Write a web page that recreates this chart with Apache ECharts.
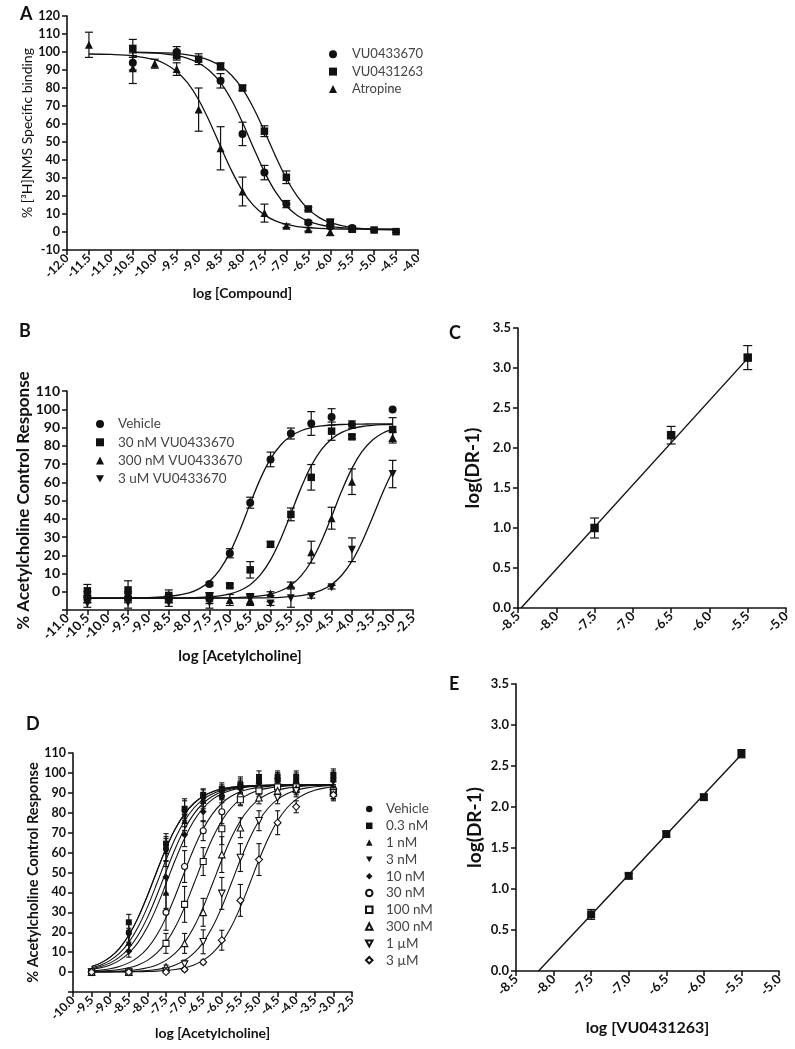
<!DOCTYPE html>
<html><head><meta charset="utf-8">
<script src="https://cdn.jsdelivr.net/npm/echarts@6/dist/echarts.min.js"></script>
<style>html,body{margin:0;padding:0;background:#fff}#c{width:795px;height:1049px}</style>
</head><body><div id="c"></div>
<script>
// ---------- Panel A : [3H]NMS binding ----------
const aX = [-11.5, -10.5, -10.0, -9.5, -9.0, -8.5, -8.0, -7.5, -7.0, -6.5, -6.0, -5.5, -5.0, -4.5];
const aVU0433670     = [null, 94, null, 100, null, 84, 54.5, 33, 15.5, 5.3, 3, 2.2, null, null];
const aVU0433670Err  = [null, 4, null, 3, null, 4, 6.5, 4, 2, 1, 1, 1, null, null];
const aVU0431263     = [null, 102, null, 98, 96, 92, 80, 56, 30.4, 12.8, 5.5, 1.5, 1.1, 0.2];
const aVU0431263Err  = [null, 5, null, 2.5, 3, 2, 1.5, 3, 3.5, 1, 1.5, 1, 0.5, 0.5];
const aAtropine      = [104, 91, 93.5, 90.5, 68, 46.5, 22.5, 10.5, 3.5, 1.5, 0, null, null, null];
const aAtropineErr   = [7, 8.5, 2.5, 3.5, 12, 12, 8, 5, 1, 1, 2, null, null, null];
// fitted curves
const aCurveX = [-11.5, -11.0, -10.5, -10.0, -9.75, -9.5, -9.25, -9.0, -8.75, -8.5, -8.25, -8.0, -7.75, -7.5, -7.25, -7.0, -6.75, -6.5, -6.25, -6.0, -5.5, -5.0, -4.5];
const aCurve670 = [null, null, 99.8, 99.35, 98.86, 98.0, 96.47, 93.9, 89.6, 83.0, 73.3, 60.8, 46.8, 33.4, 22.4, 14.45, 9.2, 6.0, 4.08, 3.0, 1.97, 1.65, 1.55];
const aCurve263 = [null, null, 99.9, 99.7, 99.48, 99.1, 98.44, 97.3, 95.4, 92.2, 87.1, 79.5, 68.9, 56.0, 42.3, 29.75, 19.8, 12.7, 8.0, 5.2, 2.4, 1.46, 1.15];
const aCurveAtr = [98.9, 98.66, 97.9, 95.7, 93.2, 89.2, 82.8, 73.5, 61.3, 47.4, 34.1, 22.9, 14.8, 9.5, 6.15, 4.2, 3.02, 2.36, 1.99, 1.77, 1.59, 1.53, 1.5];

// ---------- Panel B : ACh CRC with VU0433670 ----------
const bX = [-10.5, -9.5, -8.5, -7.5, -7.0, -6.5, -6.0, -5.5, -5.0, -4.5, -4.0, -3.0];
const bVehicle    = [-3, -3, -4, 4.2, 21.1, 48.8, 72.5, 86.7, 92.2, 95.8, 91.6, 99.8];
const bVehicleErr = [3, 3, 2, 1, 2.5, 3, 4, 3, 6.5, 4.5, 2, 0];
const b30nM       = [0.5, 1, -2, -2.5, 3.3, 12, 26, 42.4, 62.7, 88, 84.9, 88.9];
const b30nMErr    = [3.5, 5, 3, 2, 1, 4.5, 1.5, 3.5, 7, 5, 1, 6.5];
const b300nM      = [-4, -3, -4, -3.5, -4.5, -4.5, -1, 3.8, 21.7, 40.3, 60.3, 84.5];
const b300nMErr   = [2, 2, 2, 3, 3, 3, 1, 1.5, 6, 6, 7, 3];
const b3uM        = [-6.5, -6, -6, -6, null, -4, -6.5, -3.5, -2.5, 2.5, 23, 64.5];
const b3uMErr     = [2, 3, 2, 3, null, 3, 1, 5, 1, 1, 6.5, 7.5];
const bCurveX = [-10.5, -10, -9.5, -9, -8.5, -8, -7.75, -7.5, -7.25, -7.0, -6.75, -6.5, -6.25, -6.0, -5.75, -5.5, -5.25, -5.0, -4.75, -4.5, -4.25, -4.0, -3.75, -3.5, -3.25, -3.0];
const bCurveVehicle = [-3.49, -3.48, -3.42, -3.23, -2.61, -0.58, 1.71, 5.62, 11.96, 21.45, 34.02, 48.29, 61.85, 72.78, 80.44, 85.32, 88.23, 89.9, 90.84, 91.36, 91.65, 91.81, 91.9, 91.95, 91.97, 91.98];
const bCurve30nM    = [-3.5, -3.5, -3.49, -3.48, -3.44, -3.29, -3.11, -2.79, -2.21, -1.17, 0.69, 3.89, 9.21, 17.46, 28.94, 42.81, 56.92, 69.01, 77.9, 83.74, 87.3, 89.37, 90.55, 91.2, 91.56, 91.76];
const bCurve300nM   = [-3.5, -3.5, -3.5, -3.5, -3.49, -3.48, -3.46, -3.44, -3.38, -3.29, -3.12, -2.81, -2.24, -1.24, 0.54, 3.6, 8.68, 16.57, 27.66, 41.23, 55.31, 67.61, 76.86, 83.04, 86.86, 89.1];
const bCurve3uM     = [-3.5, -3.5, -3.5, -3.5, -3.5, -3.5, -3.5, -3.49, -3.49, -3.47, -3.45, -3.42, -3.36, -3.24, -3.05, -2.69, -2.08, -1.0, 0.86, 3.99, 9.05, 16.75, 27.42, 40.41, 54.01, 66.13];

// ---------- Panel C : Schild VU0433670 ----------
const cX = [-7.5, -6.5, -5.5];
const cY = [1.0, 2.16, 3.13];
const cErr = [0.125, 0.11, 0.15];
const cLine = [[-8.46, 0.0], [-5.5, 3.12]];

// ---------- Panel D : ACh CRC with VU0431263 ----------
const dX = [-9.5, -8.5, -7.5, -7.0, -6.5, -6.0, -5.5, -5.0, -4.5, -4.0, -3.0];
const dNames = ['Vehicle', '0.3 nM', '1 nM', '3 nM', '10 nM', '30 nM', '100 nM', '300 nM', '1 µM', '3 µM'];
const dVehicle = [0.3, 20, 62, 81, 88.5, 91, 93, 96, 97, 96, 97];
const d03nM    = [0.5, 25, 64.5, 82, 89, 92, 94, 98, 98, 98, 99];
const d1nM     = [0.3, 15, 40, 76, 86, 90, 93, 96, 97, 96, 97];
const d3nM     = [0.3, 18, 60, 78, 86, 90, 92.5, 95, 96, 95, 96];
const d10nM    = [0.3, 10.5, 47.6, 69, 80.5, 88, 92, 95, 96, 95, 96];
const d30nM    = [0, 0.5, 30, 53, 71, 80.5, 88, 92, 93, 93, 90];
const d100nM   = [0, 0, 14.4, 34, 55.5, 72, 86.5, 91, 93, 93, 91];
const d300nM   = [0, 0, 2.5, 14.4, 30, 59, 72.5, 87.5, 91, 92, 90];
const d1uM     = [0, 0, 0.5, 4, 15.2, 39.5, 57.5, 76, 87.5, 91, 90];
const d3uM     = [0, 0, 0, 1.3, 5, 16, 36, 56.5, 75, 83, 89];
const dVehicleErr = [1, 5, 6, 5, 3, 3, 4, 3, 3, 4, 4];
const d03nMErr    = [1, 4, 5, 5, 3, 3, 4, 3, 3, 3, 3];
const d1nMErr     = [1, 4, 8, 5, 3, 3, 3, 3, 3, 3, 3];
const d3nMErr     = [1, 4, 7, 5, 4, 3, 3, 3, 3, 3, 3];
const d10nMErr    = [1, 3, 8, 6, 5, 3, 3, 3, 3, 3, 3];
const d30nMErr    = [0.5, 1, 9, 8, 5, 6, 4, 3, 3, 3, 3];
const d100nMErr   = [0.5, 1, 5, 9, 7, 8, 3, 3, 3, 3, 3];
const d300nMErr   = [0.5, 0.5, 1, 5, 7, 9, 5, 3, 3, 3, 3];
const d1uMErr     = [0.5, 0.5, 1, 2, 6, 8, 7, 5, 3, 3, 3];
const d3uMErr     = [0.5, 0.5, 0.5, 1, 1, 5, 8, 8, 6, 3, 3];
const dCurveX = [-9.5, -9.25, -9.0, -8.75, -8.5, -8.25, -8.0, -7.75, -7.5, -7.25, -7.0, -6.75, -6.5, -6.25, -6.0, -5.75, -5.5, -5.25, -5.0, -4.75, -4.5, -4.25, -4.0, -3.75, -3.5, -3.25, -3.0];
const dCurveVehicle = [2.81, 4.62, 7.50, 11.94, 18.46, 27.34, 38.34, 50.40, 62.04, 71.93, 79.47, 84.77, 88.27, 90.50, 91.89, 92.73, 93.24, 93.54, 93.73, 93.84, 93.90, 93.94, 93.96, 93.98, 93.99, 93.99, 94.0];
const dCurve03nM    = [2.81, 4.62, 7.50, 11.94, 18.46, 27.34, 38.34, 50.40, 62.04, 71.93, 79.47, 84.77, 88.27, 90.50, 91.89, 92.73, 93.24, 93.54, 93.73, 93.84, 93.90, 93.94, 93.96, 93.98, 93.99, 93.99, 94.0];
const dCurve1nM     = [2.18, 3.60, 5.89, 9.49, 14.91, 22.60, 32.62, 44.32, 56.37, 67.25, 76.00, 82.38, 86.71, 89.52, 91.28, 92.36, 93.02, 93.41, 93.65, 93.79, 93.87, 93.93, 93.96, 93.97, 93.98, 93.99, 93.99];
const dCurve3nM     = [1.69, 2.81, 4.62, 7.50, 11.94, 18.46, 27.34, 38.34, 50.40, 62.04, 71.93, 79.47, 84.77, 88.27, 90.50, 91.89, 92.73, 93.24, 93.54, 93.73, 93.84, 93.90, 93.94, 93.96, 93.98, 93.99, 93.99];
const dCurve10nM    = [1.31, 2.18, 3.60, 5.89, 9.49, 14.91, 22.60, 32.62, 44.32, 56.37, 67.25, 76.00, 82.38, 86.71, 89.52, 91.28, 92.36, 93.02, 93.41, 93.65, 93.79, 93.87, 93.93, 93.96, 93.97, 93.98, 93.99];
const dCurve30nM    = [0.61, 1.02, 1.69, 2.81, 4.62, 7.50, 11.94, 18.46, 27.34, 38.34, 50.40, 62.04, 71.93, 79.47, 84.77, 88.27, 90.50, 91.89, 92.73, 93.24, 93.54, 93.73, 93.84, 93.90, 93.94, 93.96, 93.98];
const dCurve100nM   = [0.28, 0.47, 0.79, 1.31, 2.18, 3.60, 5.89, 9.49, 14.91, 22.60, 32.62, 44.32, 56.37, 67.25, 76.00, 82.38, 86.71, 89.52, 91.28, 92.36, 93.02, 93.41, 93.65, 93.79, 93.87, 93.93, 93.96];
const dCurve300nM   = [0.10, 0.17, 0.28, 0.47, 0.79, 1.31, 2.18, 3.60, 5.89, 9.49, 14.91, 22.60, 32.62, 44.32, 56.37, 67.25, 76.00, 82.38, 86.71, 89.52, 91.28, 92.36, 93.02, 93.41, 93.65, 93.79, 93.87];
const dCurve1uM     = [0.035, 0.059, 0.10, 0.17, 0.28, 0.47, 0.79, 1.31, 2.18, 3.60, 5.89, 9.49, 14.91, 22.60, 32.62, 44.32, 56.37, 67.25, 76.00, 82.38, 86.71, 89.52, 91.28, 92.36, 93.02, 93.41, 93.65];
const dCurve3uM     = [0.013, 0.021, 0.035, 0.059, 0.10, 0.17, 0.28, 0.47, 0.79, 1.31, 2.18, 3.60, 5.89, 9.49, 14.91, 22.60, 32.62, 44.32, 56.37, 67.25, 76.00, 82.38, 86.71, 89.52, 91.28, 92.36, 93.02];

// ---------- Panel E : Schild VU0431263 ----------
const eX = [-7.5, -7.0, -6.5, -6.0, -5.5];
const eY = [0.69, 1.16, 1.67, 2.12, 2.65];
const eErr = [0.06, 0.03, 0.03, 0.03, 0.05];
const eLine = [[-8.2, 0.0], [-5.5, 2.64]];

// ---------- helpers ----------
const FONT = "Lato, 'Open Sans', 'DejaVu Sans', sans-serif";
const INK = '#111';
const pts = (xs, ys) => xs.map((x, i) => ys[i] == null ? null : [x, ys[i]]).filter(Boolean);
const errPts = (xs, ys, es) => xs.map((x, i) => (ys[i] == null || !es[i]) ? null : [x, ys[i] - es[i], ys[i] + es[i]]).filter(Boolean);

function errSeries(g, data, cap, lw) {
  return {
    type: 'custom', xAxisIndex: g, yAxisIndex: g, z: 3, clip: true, silent: true,
    data: data, encode: { x: 0, y: [1, 2] },
    renderItem: (params, api) => {
      const x = api.value(0), p1 = api.coord([x, api.value(1)]), p2 = api.coord([x, api.value(2)]);
      const st = { stroke: INK, lineWidth: lw || 1.2 };
      return { type: 'group', children: [
        { type: 'line', shape: { x1: p1[0], y1: p1[1], x2: p2[0], y2: p2[1] }, style: st },
        { type: 'line', shape: { x1: p1[0] - cap, y1: p1[1], x2: p1[0] + cap, y2: p1[1] }, style: st },
        { type: 'line', shape: { x1: p2[0] - cap, y1: p2[1], x2: p2[0] + cap, y2: p2[1] }, style: st }
      ]};
    }
  };
}
function scat(g, name, data, symbol, size, open) {
  return {
    type: 'scatter', name: name, xAxisIndex: g, yAxisIndex: g, z: 5, data: data,
    symbol: symbol, symbolSize: size,
    itemStyle: open ? { color: '#fff', borderColor: INK, borderWidth: 1.1, opacity: 1 } : { color: INK, opacity: 1 }
  };
}
function curve(g, data, w) {
  return {
    type: 'line', xAxisIndex: g, yAxisIndex: g, z: 4, data: data, showSymbol: false, symbol: 'none',
    smooth: 0.35, lineStyle: { color: INK, width: w || 1.3 }, silent: true
  };
}
const DOWN = 'path://M0,0L10,0L5,9Z';

function xAx(g, min, max, name, gap, fs, nfs) {
  return {
    gridIndex: g, type: 'value', min: min, max: max, interval: 0.5,
    name: name, nameLocation: 'middle', nameGap: gap,
    nameTextStyle: { fontFamily: FONT, fontWeight: 'bold', fontSize: nfs, color: INK },
    axisLine: { onZero: false, lineStyle: { color: INK, width: 1.6 } },
    axisTick: { show: true, length: 5, lineStyle: { color: INK, width: 1.5 } },
    splitLine: { show: false },
    axisLabel: { rotate: 45, margin: 6, fontFamily: FONT, fontWeight: 'bold', fontSize: fs, color: INK,
      formatter: v => v.toFixed(1), showMinLabel: true, showMaxLabel: true }
  };
}
function yAx(g, min, max, interval, name, gap, fs, nfs, fmt, nweight) {
  return {
    gridIndex: g, type: 'value', min: min, max: max, interval: interval,
    name: name, nameLocation: 'middle', nameGap: gap, nameRotate: 90,
    nameTextStyle: { fontFamily: FONT, fontWeight: nweight || 'bold', fontSize: nfs, color: INK },
    axisLine: { show: true, onZero: false, lineStyle: { color: INK, width: 1.6 } },
    axisTick: { show: true, length: 5, lineStyle: { color: INK, width: 1.5 } },
    splitLine: { show: false },
    axisLabel: { margin: 7, fontFamily: FONT, fontWeight: 'bold', fontSize: fs, color: INK, formatter: fmt,
      showMinLabel: true, showMaxLabel: true }
  };
}
const hideMinus10 = v => (v === -10 ? '' : String(v));

const series = [];
// A
series.push(errSeries(0, errPts(aX, aVU0433670, aVU0433670Err), 4));
series.push(errSeries(0, errPts(aX, aVU0431263, aVU0431263Err), 4));
series.push(errSeries(0, errPts(aX, aAtropine, aAtropineErr), 4));
series.push(curve(0, pts(aCurveX, aCurve670)));
series.push(curve(0, pts(aCurveX, aCurve263)));
series.push(curve(0, pts(aCurveX, aCurveAtr)));
series.push(scat(0, 'VU0433670', pts(aX, aVU0433670), 'circle', 8));
series.push(scat(0, 'VU0431263', pts(aX, aVU0431263), 'rect', 7.5));
series.push(scat(0, 'Atropine', pts(aX, aAtropine), 'triangle', 8));
// B
series.push(errSeries(1, errPts(bX, bVehicle, bVehicleErr), 4));
series.push(errSeries(1, errPts(bX, b30nM, b30nMErr), 4));
series.push(errSeries(1, errPts(bX, b300nM, b300nMErr), 4));
series.push(errSeries(1, errPts(bX, b3uM, b3uMErr), 4));
series.push(curve(1, pts(bCurveX, bCurveVehicle)));
series.push(curve(1, pts(bCurveX, bCurve30nM)));
series.push(curve(1, pts(bCurveX, bCurve300nM)));
series.push(curve(1, pts(bCurveX, bCurve3uM)));
series.push(scat(1, 'Vehicle', pts(bX, bVehicle), 'circle', 8));
series.push(scat(1, '30 nM VU0433670', pts(bX, b30nM), 'rect', 7.5));
series.push(scat(1, '300 nM VU0433670', pts(bX, b300nM), 'triangle', 8));
series.push(scat(1, '3 uM VU0433670', pts(bX, b3uM), DOWN, 8));
// C
series.push(errSeries(2, errPts(cX, cY, cErr), 4.5));
series.push({ type: 'line', xAxisIndex: 2, yAxisIndex: 2, z: 4, data: cLine, showSymbol: false, symbol: 'none', lineStyle: { color: INK, width: 1.4 }, silent: true });
series.push(scat(2, 'C', pts(cX, cY), 'rect', 8.5));
// D
const dY = [dVehicle, d03nM, d1nM, d3nM, d10nM, d30nM, d100nM, d300nM, d1uM, d3uM];
const dE = [dVehicleErr, d03nMErr, d1nMErr, d3nMErr, d10nMErr, d30nMErr, d100nMErr, d300nMErr, d1uMErr, d3uMErr];
const dC = [dCurveVehicle, dCurve03nM, dCurve1nM, dCurve3nM, dCurve10nM, dCurve30nM, dCurve100nM, dCurve300nM, dCurve1uM, dCurve3uM];
const dSym = ['circle', 'rect', 'triangle', DOWN, 'diamond', 'circle', 'rect', 'triangle', DOWN, 'diamond'];
const dSize = [6, 6, 6.5, 6.5, 7, 6, 6, 6.5, 6.5, 7];
for (let i = 0; i < 10; i++) series.push(errSeries(3, errPts(dX, dY[i], dE[i]), 2.6, 1.1));
for (let i = 0; i < 10; i++) series.push(curve(3, pts(dCurveX, dC[i]), 1.1));
for (let i = 0; i < 10; i++) series.push(scat(3, 'D: ' + dNames[i], pts(dX, dY[i]), dSym[i], dSize[i], i >= 5));
// E
series.push(errSeries(4, errPts(eX, eY, eErr), 4));
series.push({ type: 'line', xAxisIndex: 4, yAxisIndex: 4, z: 4, data: eLine, showSymbol: false, symbol: 'none', lineStyle: { color: INK, width: 1.4 }, silent: true });
series.push(scat(4, 'E', pts(eX, eY), 'rect', 8));

const legendText = (fs, lh, padL) => ({ fontFamily: FONT, fontSize: fs, color: '#444', lineHeight: lh, padding: [0, 0, 0, padL] });

const option = {
  animation: false,
  backgroundColor: '#fff',
  grid: [
    { left: 67, top: 16, width: 351, height: 234 },
    { left: 67, top: 391, width: 346, height: 219 },
    { left: 518, top: 328, width: 268, height: 280 },
    { left: 73, top: 753, width: 279, height: 239 },
    { left: 516, top: 684, width: 263, height: 287 }
  ],
  xAxis: [
    xAx(0, -12, -4, 'log [Compound]', 36, 12, 14),
    xAx(1, -11, -2.5, 'log [Acetylcholine]', 39, 13, 15),
    xAx(2, -8.5, -5.0, '', 40, 13, 15),
    xAx(3, -10, -2.5, 'log [Acetylcholine]', 34, 12, 14),
    xAx(4, -8.5, -5.0, 'log [VU0431263]', 49, 13, 16)
  ],
  yAxis: [
    yAx(0, -10, 120, 10, '% [³H]NMS Specific binding', 29, 12.5, 14, v => String(v), 'normal'),
    yAx(1, -10, 110, 10, '% Acetylcholine Control Response', 33.5, 14, 17, hideMinus10),
    yAx(2, 0, 3.5, 0.5, 'log(DR-1)', 35.5, 13, 19, v => v.toFixed(1)),
    yAx(3, -10, 110, 10, '% Acetylcholine Control Response', 30.5, 12.5, 14.5, hideMinus10),
    yAx(4, 0, 3.5, 0.5, 'log(DR-1)', 32, 13, 19, v => v.toFixed(1))
  ],
  legend: [
    { data: ['VU0433670', 'VU0431263', 'Atropine'], orient: 'vertical', left: 324, top: 42.3,
      itemWidth: 8, itemHeight: 8, itemGap: 3.3, selectedMode: false, textStyle: legendText(13, 14, 10) },
    { data: ['Vehicle', '30 nM VU0433670', '300 nM VU0433670', '3 uM VU0433670'], orient: 'vertical', left: 91, top: 411.5,
      itemWidth: 8, itemHeight: 8, itemGap: 3.3, selectedMode: false, textStyle: legendText(13.5, 15, 9) },
    { data: dNames.map(n => 'D: ' + n), orient: 'vertical', left: 360, top: 797,
      itemWidth: 6.5, itemHeight: 6.5, itemGap: 2.8, selectedMode: false,
      formatter: n => n.replace(/^D: /, ''), textStyle: legendText(13.5, 14, 8.5) }
  ],
  graphic: [
    { type: 'text', left: 20, top: 5, style: { text: 'A', font: 'bold 18px ' + FONT, fill: INK } },
    { type: 'text', left: 19, top: 322, style: { text: 'B', font: 'bold 18px ' + FONT, fill: INK } },
    { type: 'text', left: 449, top: 324, style: { text: 'C', font: 'bold 18px ' + FONT, fill: INK } },
    { type: 'text', left: 26, top: 715, style: { text: 'D', font: 'bold 18px ' + FONT, fill: INK } },
    { type: 'text', left: 449, top: 675, style: { text: 'E', font: 'bold 18px ' + FONT, fill: INK } }
  ],
  series: series
};
const chart = echarts.init(document.getElementById('c'), null, { renderer: 'canvas' });
chart.setOption(option);
</script></body></html>
